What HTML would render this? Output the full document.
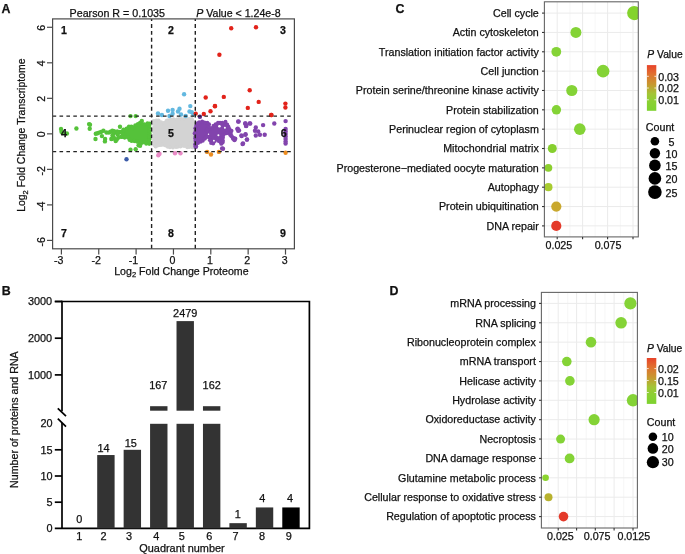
<!DOCTYPE html>
<html><head><meta charset="utf-8"><style>
html,body{margin:0;padding:0;background:#fff;}
svg{display:block;will-change:transform;}
text{font-family:"Liberation Sans",sans-serif;fill:#111;stroke:#111;stroke-width:0.25px;}
</style></head><body>
<svg width="685" height="554" viewBox="0 0 685 554">
<rect width="685" height="554" fill="#fff"/>
<text x="1.40" y="12.60" text-anchor="start" font-size="12.4" font-weight="bold" >A</text>
<text x="69.60" y="16.70" text-anchor="start" font-size="10.7" >Pearson R = 0.1035</text>
<text x="196.30" y="16.70" text-anchor="start" font-size="10.6" ><tspan font-style="italic">P</tspan> Value &lt; 1.24e-8</text>
<g>
<polygon points="122.5,131.4 122.5,136.7 124.2,137.4 127.7,135.5 129.1,139.4 131.1,140.4 134.0,141.6 136.2,140.8 140.2,143.4 142.8,142.3 148.1,143.8 149.2,144.1 149.2,122.5 147.6,123.2 144.0,124.2 142.2,123.1 140.8,122.6 138.1,123.8 135.8,125.0 133.9,129.5 131.1,126.9 128.8,126.3 127.5,127.2 124.6,130.7 122.5,131.4" fill="#55c23a"/>
<circle cx="122.24" cy="131.41" r="1.99" fill="#55c23a"/>
<circle cx="122.60" cy="134.15" r="1.89" fill="#55c23a"/>
<circle cx="122.01" cy="137.02" r="1.96" fill="#55c23a"/>
<circle cx="124.60" cy="137.54" r="2.03" fill="#55c23a"/>
<circle cx="127.52" cy="135.73" r="2.08" fill="#55c23a"/>
<circle cx="128.03" cy="137.59" r="2.16" fill="#55c23a"/>
<circle cx="129.60" cy="139.92" r="2.09" fill="#55c23a"/>
<circle cx="131.56" cy="141.03" r="2.07" fill="#55c23a"/>
<circle cx="134.27" cy="140.97" r="2.16" fill="#55c23a"/>
<circle cx="136.87" cy="141.49" r="2.16" fill="#55c23a"/>
<circle cx="139.35" cy="143.12" r="2.00" fill="#55c23a"/>
<circle cx="141.78" cy="142.81" r="2.18" fill="#55c23a"/>
<circle cx="144.35" cy="142.24" r="1.91" fill="#55c23a"/>
<circle cx="146.24" cy="143.86" r="2.01" fill="#55c23a"/>
<circle cx="149.22" cy="143.84" r="2.04" fill="#55c23a"/>
<circle cx="149.09" cy="141.36" r="2.06" fill="#55c23a"/>
<circle cx="149.28" cy="139.26" r="2.10" fill="#55c23a"/>
<circle cx="149.63" cy="136.55" r="2.20" fill="#55c23a"/>
<circle cx="149.37" cy="133.20" r="2.15" fill="#55c23a"/>
<circle cx="149.66" cy="131.29" r="2.06" fill="#55c23a"/>
<circle cx="149.41" cy="127.94" r="2.14" fill="#55c23a"/>
<circle cx="149.27" cy="125.36" r="1.89" fill="#55c23a"/>
<circle cx="149.55" cy="123.41" r="1.90" fill="#55c23a"/>
<circle cx="147.47" cy="123.23" r="1.92" fill="#55c23a"/>
<circle cx="144.41" cy="124.31" r="2.16" fill="#55c23a"/>
<circle cx="141.82" cy="123.31" r="1.88" fill="#55c23a"/>
<circle cx="140.08" cy="122.84" r="2.16" fill="#55c23a"/>
<circle cx="137.95" cy="124.16" r="2.20" fill="#55c23a"/>
<circle cx="135.32" cy="125.31" r="2.07" fill="#55c23a"/>
<circle cx="133.98" cy="127.87" r="2.00" fill="#55c23a"/>
<circle cx="133.10" cy="128.35" r="1.88" fill="#55c23a"/>
<circle cx="131.40" cy="126.74" r="2.19" fill="#55c23a"/>
<circle cx="128.90" cy="126.40" r="2.02" fill="#55c23a"/>
<circle cx="126.60" cy="128.45" r="2.07" fill="#55c23a"/>
<circle cx="124.96" cy="130.48" r="2.18" fill="#55c23a"/>
<circle cx="61.00" cy="129.00" r="2.20" fill="#55c23a"/>
<circle cx="61.50" cy="131.70" r="2.20" fill="#55c23a"/>
<circle cx="62.50" cy="133.00" r="2.20" fill="#55c23a"/>
<circle cx="66.90" cy="133.50" r="2.20" fill="#55c23a"/>
<circle cx="76.40" cy="128.50" r="2.20" fill="#55c23a"/>
<circle cx="89.10" cy="124.10" r="2.20" fill="#55c23a"/>
<circle cx="90.00" cy="124.70" r="2.20" fill="#55c23a"/>
<circle cx="89.70" cy="128.80" r="2.20" fill="#55c23a"/>
<circle cx="95.80" cy="133.80" r="2.20" fill="#55c23a"/>
<circle cx="99.00" cy="132.60" r="2.20" fill="#55c23a"/>
<circle cx="103.40" cy="130.80" r="2.20" fill="#55c23a"/>
<circle cx="101.90" cy="136.10" r="2.20" fill="#55c23a"/>
<circle cx="95.50" cy="139.00" r="2.20" fill="#55c23a"/>
<circle cx="105.10" cy="139.00" r="2.20" fill="#55c23a"/>
<circle cx="104.90" cy="141.40" r="2.20" fill="#55c23a"/>
<circle cx="108.90" cy="132.60" r="2.20" fill="#55c23a"/>
<circle cx="112.40" cy="130.80" r="2.20" fill="#55c23a"/>
<circle cx="113.60" cy="133.80" r="2.20" fill="#55c23a"/>
<circle cx="111.30" cy="139.00" r="2.20" fill="#55c23a"/>
<circle cx="115.70" cy="141.10" r="2.20" fill="#55c23a"/>
<circle cx="120.00" cy="126.80" r="2.20" fill="#55c23a"/>
<circle cx="117.70" cy="134.40" r="2.20" fill="#55c23a"/>
<circle cx="120.00" cy="132.00" r="2.20" fill="#55c23a"/>
<circle cx="123.50" cy="129.70" r="2.20" fill="#55c23a"/>
<circle cx="121.20" cy="136.70" r="2.20" fill="#55c23a"/>
<circle cx="124.70" cy="137.30" r="2.20" fill="#55c23a"/>
<circle cx="97.50" cy="133.20" r="2.20" fill="#55c23a"/>
<circle cx="101.00" cy="132.00" r="2.20" fill="#55c23a"/>
<circle cx="106.50" cy="132.50" r="2.20" fill="#55c23a"/>
<circle cx="110.50" cy="131.80" r="2.20" fill="#55c23a"/>
<circle cx="115.00" cy="132.20" r="2.20" fill="#55c23a"/>
<circle cx="117.00" cy="131.80" r="2.20" fill="#55c23a"/>
<circle cx="114.10" cy="131.20" r="2.20" fill="#55c23a"/>
<circle cx="117.50" cy="131.80" r="2.20" fill="#55c23a"/>
<circle cx="112.50" cy="135.50" r="2.20" fill="#55c23a"/>
<circle cx="114.00" cy="138.00" r="2.20" fill="#55c23a"/>
<circle cx="116.80" cy="139.50" r="2.20" fill="#55c23a"/>
<circle cx="118.50" cy="137.50" r="2.20" fill="#55c23a"/>
<circle cx="113.40" cy="138.00" r="2.20" fill="#55c23a"/>
<circle cx="112.30" cy="138.70" r="2.20" fill="#55c23a"/>
<circle cx="130.50" cy="149.70" r="2.20" fill="#55c23a"/>
<circle cx="135.70" cy="149.30" r="2.20" fill="#55c23a"/>
<circle cx="130.50" cy="116.10" r="2.20" fill="#55c23a"/>
<circle cx="135.70" cy="116.10" r="2.20" fill="#55c23a"/>
<circle cx="141.80" cy="120.90" r="2.20" fill="#55c23a"/>
<circle cx="140.10" cy="145.80" r="2.20" fill="#55c23a"/>
<circle cx="138.60" cy="145.20" r="2.20" fill="#55c23a"/>
<polygon points="154.0,121.5 154.0,143.6 154.3,145.9 155.8,146.6 157.7,145.4 162.5,144.4 166.8,146.2 172.0,147.7 174.8,147.4 180.9,146.2 184.1,145.1 186.6,147.6 190.6,146.9 192.8,146.4 192.8,119.4 192.2,119.2 188.4,119.6 183.7,118.4 178.3,119.6 171.9,119.2 169.1,119.8 165.6,121.3 162.7,124.2 159.7,121.1 157.9,120.0 155.7,120.2 154.0,121.5" fill="#d3d3d3"/>
<circle cx="153.74" cy="121.11" r="2.00" fill="#d3d3d3"/>
<circle cx="153.65" cy="123.67" r="2.00" fill="#d3d3d3"/>
<circle cx="154.42" cy="127.01" r="2.12" fill="#d3d3d3"/>
<circle cx="153.72" cy="129.35" r="1.96" fill="#d3d3d3"/>
<circle cx="153.67" cy="131.52" r="1.94" fill="#d3d3d3"/>
<circle cx="154.43" cy="134.84" r="2.14" fill="#d3d3d3"/>
<circle cx="154.30" cy="136.81" r="1.97" fill="#d3d3d3"/>
<circle cx="154.13" cy="139.95" r="2.15" fill="#d3d3d3"/>
<circle cx="154.38" cy="141.91" r="2.07" fill="#d3d3d3"/>
<circle cx="154.34" cy="144.92" r="1.93" fill="#d3d3d3"/>
<circle cx="155.72" cy="146.21" r="2.18" fill="#d3d3d3"/>
<circle cx="158.32" cy="145.39" r="1.97" fill="#d3d3d3"/>
<circle cx="160.91" cy="144.90" r="2.16" fill="#d3d3d3"/>
<circle cx="163.37" cy="144.67" r="2.01" fill="#d3d3d3"/>
<circle cx="165.54" cy="145.56" r="1.92" fill="#d3d3d3"/>
<circle cx="167.70" cy="146.81" r="1.88" fill="#d3d3d3"/>
<circle cx="169.94" cy="147.35" r="1.96" fill="#d3d3d3"/>
<circle cx="172.96" cy="147.56" r="1.98" fill="#d3d3d3"/>
<circle cx="176.00" cy="146.96" r="2.01" fill="#d3d3d3"/>
<circle cx="177.75" cy="146.87" r="1.96" fill="#d3d3d3"/>
<circle cx="180.45" cy="146.46" r="1.98" fill="#d3d3d3"/>
<circle cx="183.13" cy="145.83" r="1.90" fill="#d3d3d3"/>
<circle cx="184.75" cy="145.85" r="2.12" fill="#d3d3d3"/>
<circle cx="187.29" cy="147.24" r="1.98" fill="#d3d3d3"/>
<circle cx="189.42" cy="147.03" r="1.88" fill="#d3d3d3"/>
<circle cx="192.48" cy="146.94" r="2.19" fill="#d3d3d3"/>
<circle cx="193.03" cy="144.81" r="1.88" fill="#d3d3d3"/>
<circle cx="192.59" cy="142.22" r="2.13" fill="#d3d3d3"/>
<circle cx="192.71" cy="139.59" r="2.07" fill="#d3d3d3"/>
<circle cx="193.12" cy="136.34" r="1.93" fill="#d3d3d3"/>
<circle cx="192.74" cy="133.58" r="2.00" fill="#d3d3d3"/>
<circle cx="193.26" cy="131.17" r="1.87" fill="#d3d3d3"/>
<circle cx="192.34" cy="128.41" r="2.13" fill="#d3d3d3"/>
<circle cx="192.66" cy="125.93" r="1.90" fill="#d3d3d3"/>
<circle cx="193.28" cy="123.46" r="1.94" fill="#d3d3d3"/>
<circle cx="192.36" cy="120.49" r="1.93" fill="#d3d3d3"/>
<circle cx="191.91" cy="118.93" r="1.88" fill="#d3d3d3"/>
<circle cx="189.14" cy="119.29" r="2.20" fill="#d3d3d3"/>
<circle cx="186.22" cy="119.20" r="2.13" fill="#d3d3d3"/>
<circle cx="183.99" cy="119.03" r="2.03" fill="#d3d3d3"/>
<circle cx="181.28" cy="118.82" r="1.88" fill="#d3d3d3"/>
<circle cx="178.92" cy="119.21" r="2.16" fill="#d3d3d3"/>
<circle cx="176.75" cy="119.49" r="1.88" fill="#d3d3d3"/>
<circle cx="173.57" cy="119.07" r="1.94" fill="#d3d3d3"/>
<circle cx="170.97" cy="119.73" r="1.92" fill="#d3d3d3"/>
<circle cx="168.27" cy="120.41" r="2.06" fill="#d3d3d3"/>
<circle cx="166.80" cy="120.87" r="2.17" fill="#d3d3d3"/>
<circle cx="164.46" cy="122.85" r="2.12" fill="#d3d3d3"/>
<circle cx="162.46" cy="123.52" r="1.94" fill="#d3d3d3"/>
<circle cx="161.00" cy="122.48" r="2.18" fill="#d3d3d3"/>
<circle cx="158.46" cy="120.60" r="2.13" fill="#d3d3d3"/>
<circle cx="156.32" cy="120.49" r="2.04" fill="#d3d3d3"/>
<polygon points="195.3,128.1 195.3,141.4 195.5,145.7 195.7,145.8 197.9,143.5 201.3,141.5 204.7,138.2 208.6,135.6 210.6,140.8 211.8,143.1 212.9,143.9 213.3,143.3 216.6,138.9 219.0,141.6 221.6,143.3 221.9,144.9 221.9,144.0 222.6,139.7 223.4,134.9 227.1,132.6 231.6,136.2 233.2,138.7 234.3,138.6 234.3,138.0 230.6,134.4 231.4,131.3 229.7,127.9 227.7,125.3 225.9,122.7 224.6,121.9 221.7,122.5 218.3,122.5 216.2,123.3 213.7,126.2 206.5,130.7 209.4,124.3 208.7,122.9 205.5,122.1 199.2,122.1 197.4,122.7 196.2,126.3 195.3,128.1" fill="#8244ad"/>
<circle cx="195.42" cy="128.32" r="2.13" fill="#8244ad"/>
<circle cx="195.74" cy="130.95" r="2.17" fill="#8244ad"/>
<circle cx="194.83" cy="133.32" r="2.18" fill="#8244ad"/>
<circle cx="195.45" cy="136.39" r="1.91" fill="#8244ad"/>
<circle cx="195.27" cy="138.37" r="2.05" fill="#8244ad"/>
<circle cx="195.37" cy="140.77" r="1.94" fill="#8244ad"/>
<circle cx="195.22" cy="144.31" r="2.12" fill="#8244ad"/>
<circle cx="195.80" cy="145.60" r="1.92" fill="#8244ad"/>
<circle cx="198.14" cy="143.09" r="1.87" fill="#8244ad"/>
<circle cx="200.66" cy="141.83" r="1.94" fill="#8244ad"/>
<circle cx="202.82" cy="140.87" r="1.97" fill="#8244ad"/>
<circle cx="204.67" cy="138.67" r="2.09" fill="#8244ad"/>
<circle cx="206.02" cy="137.51" r="2.10" fill="#8244ad"/>
<circle cx="208.97" cy="136.00" r="1.97" fill="#8244ad"/>
<circle cx="209.35" cy="137.60" r="1.92" fill="#8244ad"/>
<circle cx="210.00" cy="140.20" r="2.07" fill="#8244ad"/>
<circle cx="211.08" cy="142.95" r="1.98" fill="#8244ad"/>
<circle cx="213.16" cy="143.52" r="2.03" fill="#8244ad"/>
<circle cx="214.75" cy="141.08" r="2.10" fill="#8244ad"/>
<circle cx="216.07" cy="139.46" r="1.88" fill="#8244ad"/>
<circle cx="218.55" cy="141.11" r="1.88" fill="#8244ad"/>
<circle cx="220.61" cy="142.29" r="2.06" fill="#8244ad"/>
<circle cx="221.26" cy="143.93" r="1.93" fill="#8244ad"/>
<circle cx="222.55" cy="142.59" r="2.12" fill="#8244ad"/>
<circle cx="222.96" cy="140.74" r="1.98" fill="#8244ad"/>
<circle cx="222.83" cy="137.72" r="2.13" fill="#8244ad"/>
<circle cx="223.02" cy="135.34" r="2.13" fill="#8244ad"/>
<circle cx="225.89" cy="133.16" r="2.18" fill="#8244ad"/>
<circle cx="227.31" cy="132.97" r="2.07" fill="#8244ad"/>
<circle cx="230.21" cy="134.61" r="2.17" fill="#8244ad"/>
<circle cx="231.82" cy="136.29" r="1.97" fill="#8244ad"/>
<circle cx="232.88" cy="138.27" r="1.92" fill="#8244ad"/>
<circle cx="233.82" cy="137.82" r="1.92" fill="#8244ad"/>
<circle cx="231.29" cy="135.97" r="2.05" fill="#8244ad"/>
<circle cx="230.79" cy="133.09" r="2.07" fill="#8244ad"/>
<circle cx="231.52" cy="130.79" r="2.01" fill="#8244ad"/>
<circle cx="229.59" cy="128.88" r="1.88" fill="#8244ad"/>
<circle cx="228.53" cy="126.65" r="1.91" fill="#8244ad"/>
<circle cx="227.19" cy="124.64" r="2.08" fill="#8244ad"/>
<circle cx="225.50" cy="121.88" r="2.01" fill="#8244ad"/>
<circle cx="222.37" cy="122.63" r="1.97" fill="#8244ad"/>
<circle cx="220.06" cy="123.00" r="2.15" fill="#8244ad"/>
<circle cx="218.00" cy="122.74" r="2.03" fill="#8244ad"/>
<circle cx="215.64" cy="124.19" r="1.97" fill="#8244ad"/>
<circle cx="213.58" cy="125.85" r="1.99" fill="#8244ad"/>
<circle cx="211.94" cy="128.07" r="2.08" fill="#8244ad"/>
<circle cx="209.21" cy="128.84" r="1.90" fill="#8244ad"/>
<circle cx="206.75" cy="130.68" r="2.16" fill="#8244ad"/>
<circle cx="207.29" cy="129.02" r="2.13" fill="#8244ad"/>
<circle cx="208.71" cy="126.50" r="2.12" fill="#8244ad"/>
<circle cx="209.09" cy="124.14" r="1.96" fill="#8244ad"/>
<circle cx="207.28" cy="122.80" r="2.10" fill="#8244ad"/>
<circle cx="204.50" cy="122.55" r="2.08" fill="#8244ad"/>
<circle cx="202.15" cy="121.61" r="2.05" fill="#8244ad"/>
<circle cx="199.19" cy="122.27" r="2.02" fill="#8244ad"/>
<circle cx="197.54" cy="123.33" r="2.13" fill="#8244ad"/>
<circle cx="196.24" cy="125.83" r="2.11" fill="#8244ad"/>
<circle cx="219.40" cy="126.30" r="1.30" fill="#ffffff"/>
<circle cx="224.90" cy="127.70" r="1.00" fill="#ffffff"/>
<circle cx="218.40" cy="135.30" r="1.00" fill="#ffffff"/>
<circle cx="213.90" cy="140.70" r="0.90" fill="#ffffff"/>
<circle cx="208.50" cy="134.20" r="0.70" fill="#ffffff"/>
<circle cx="238.60" cy="121.60" r="2.20" fill="#8244ad"/>
<circle cx="245.20" cy="123.40" r="2.20" fill="#8244ad"/>
<circle cx="246.10" cy="126.00" r="2.20" fill="#8244ad"/>
<circle cx="237.70" cy="128.60" r="2.20" fill="#8244ad"/>
<circle cx="239.00" cy="130.40" r="2.20" fill="#8244ad"/>
<circle cx="241.70" cy="136.10" r="2.20" fill="#8244ad"/>
<circle cx="245.60" cy="134.30" r="2.20" fill="#8244ad"/>
<circle cx="246.90" cy="139.60" r="2.20" fill="#8244ad"/>
<circle cx="242.60" cy="144.00" r="2.20" fill="#8244ad"/>
<circle cx="249.60" cy="123.40" r="2.20" fill="#8244ad"/>
<circle cx="238.20" cy="121.50" r="2.20" fill="#8244ad"/>
<circle cx="245.40" cy="123.50" r="2.20" fill="#8244ad"/>
<circle cx="250.20" cy="123.50" r="2.20" fill="#8244ad"/>
<circle cx="246.20" cy="125.90" r="2.20" fill="#8244ad"/>
<circle cx="263.10" cy="125.10" r="2.20" fill="#8244ad"/>
<circle cx="274.30" cy="123.50" r="2.20" fill="#8244ad"/>
<circle cx="285.60" cy="121.10" r="2.20" fill="#8244ad"/>
<circle cx="237.40" cy="129.10" r="2.20" fill="#8244ad"/>
<circle cx="238.20" cy="130.70" r="2.20" fill="#8244ad"/>
<circle cx="255.80" cy="127.50" r="2.20" fill="#8244ad"/>
<circle cx="255.00" cy="130.70" r="2.20" fill="#8244ad"/>
<circle cx="258.20" cy="131.50" r="2.20" fill="#8244ad"/>
<circle cx="255.80" cy="135.50" r="2.20" fill="#8244ad"/>
<circle cx="259.90" cy="134.70" r="2.20" fill="#8244ad"/>
<circle cx="264.70" cy="134.70" r="2.20" fill="#8244ad"/>
<circle cx="241.40" cy="135.50" r="2.20" fill="#8244ad"/>
<circle cx="245.40" cy="134.70" r="2.20" fill="#8244ad"/>
<circle cx="247.00" cy="139.50" r="2.20" fill="#8244ad"/>
<circle cx="243.00" cy="143.50" r="2.20" fill="#8244ad"/>
<circle cx="233.40" cy="138.70" r="2.20" fill="#8244ad"/>
<circle cx="222.10" cy="148.40" r="2.20" fill="#8244ad"/>
<circle cx="195.60" cy="146.80" r="2.20" fill="#8244ad"/>
<circle cx="285.60" cy="129.00" r="2.20" fill="#8244ad"/>
<circle cx="285.60" cy="131.50" r="2.20" fill="#8244ad"/>
<circle cx="285.60" cy="134.00" r="2.20" fill="#8244ad"/>
<circle cx="285.60" cy="136.50" r="2.20" fill="#8244ad"/>
<circle cx="285.60" cy="139.00" r="2.20" fill="#8244ad"/>
<circle cx="285.60" cy="141.50" r="2.20" fill="#8244ad"/>
<circle cx="285.60" cy="143.50" r="2.20" fill="#8244ad"/>
<circle cx="235.20" cy="138.80" r="2.20" fill="#8244ad"/>
<circle cx="234.50" cy="140.00" r="2.20" fill="#8244ad"/>
<circle cx="223.00" cy="148.80" r="2.20" fill="#8244ad"/>
<circle cx="196.00" cy="146.50" r="2.20" fill="#8244ad"/>
<circle cx="199.90" cy="116.70" r="2.20" fill="#5c2e86"/>
<circle cx="184.10" cy="94.30" r="2.20" fill="#63b8e0"/>
<circle cx="190.30" cy="106.10" r="2.20" fill="#63b8e0"/>
<circle cx="189.50" cy="111.50" r="2.20" fill="#63b8e0"/>
<circle cx="191.80" cy="112.20" r="2.20" fill="#63b8e0"/>
<circle cx="179.50" cy="108.80" r="2.20" fill="#63b8e0"/>
<circle cx="178.00" cy="111.50" r="2.20" fill="#63b8e0"/>
<circle cx="172.60" cy="109.90" r="2.20" fill="#63b8e0"/>
<circle cx="168.00" cy="110.70" r="2.20" fill="#63b8e0"/>
<circle cx="172.60" cy="113.80" r="2.20" fill="#63b8e0"/>
<circle cx="169.50" cy="116.00" r="2.20" fill="#63b8e0"/>
<circle cx="158.00" cy="113.50" r="2.20" fill="#63b8e0"/>
<circle cx="161.90" cy="115.00" r="2.20" fill="#63b8e0"/>
<circle cx="185.70" cy="116.00" r="2.20" fill="#63b8e0"/>
<circle cx="181.00" cy="114.50" r="2.20" fill="#63b8e0"/>
<circle cx="193.50" cy="114.50" r="2.20" fill="#63b8e0"/>
<circle cx="231.20" cy="28.30" r="2.20" fill="#e2231a"/>
<circle cx="256.00" cy="27.30" r="2.20" fill="#e2231a"/>
<circle cx="219.40" cy="54.80" r="2.20" fill="#e2231a"/>
<circle cx="249.70" cy="90.30" r="2.20" fill="#e2231a"/>
<circle cx="205.70" cy="97.50" r="2.20" fill="#e2231a"/>
<circle cx="223.80" cy="96.90" r="2.20" fill="#e2231a"/>
<circle cx="258.70" cy="101.90" r="2.20" fill="#e2231a"/>
<circle cx="215.00" cy="106.00" r="2.20" fill="#e2231a"/>
<circle cx="247.80" cy="107.90" r="2.20" fill="#e2231a"/>
<circle cx="285.40" cy="103.60" r="2.20" fill="#e2231a"/>
<circle cx="285.40" cy="107.50" r="2.20" fill="#e2231a"/>
<circle cx="210.50" cy="111.20" r="2.20" fill="#e2231a"/>
<circle cx="203.80" cy="114.00" r="2.20" fill="#e2231a"/>
<circle cx="195.70" cy="113.60" r="2.20" fill="#e2231a"/>
<circle cx="271.50" cy="115.00" r="2.20" fill="#e2231a"/>
<circle cx="271.10" cy="115.00" r="2.20" fill="#e2231a"/>
<circle cx="214.90" cy="106.30" r="2.20" fill="#e2231a"/>
<circle cx="158.30" cy="155.30" r="2.20" fill="#e98ac6"/>
<circle cx="159.50" cy="153.70" r="2.20" fill="#e98ac6"/>
<circle cx="175.00" cy="153.30" r="2.20" fill="#e98ac6"/>
<circle cx="180.50" cy="153.30" r="2.20" fill="#e98ac6"/>
<circle cx="207.10" cy="151.90" r="2.20" fill="#ec8c1f"/>
<circle cx="211.00" cy="154.50" r="2.20" fill="#ec8c1f"/>
<circle cx="218.90" cy="151.90" r="2.20" fill="#ec8c1f"/>
<circle cx="285.60" cy="152.70" r="2.20" fill="#ec8c1f"/>
<circle cx="126.50" cy="159.30" r="2.20" fill="#3b5ba8"/>
</g>
<line x1="151.60" y1="18.90" x2="151.60" y2="248.80" stroke="#222" stroke-width="1.4" stroke-dasharray="3.9,3.0" stroke-dashoffset="1.8"/>
<line x1="195.30" y1="18.90" x2="195.30" y2="248.80" stroke="#222" stroke-width="1.4" stroke-dasharray="3.9,3.0" stroke-dashoffset="1.8"/>
<line x1="52.60" y1="116.09" x2="294.40" y2="116.09" stroke="#222" stroke-width="1.3" stroke-dasharray="3.6,3.3"/>
<line x1="52.60" y1="151.61" x2="294.40" y2="151.61" stroke="#222" stroke-width="1.3" stroke-dasharray="3.6,3.3"/>
<rect x="52.6" y="18.9" width="241.80" height="229.90" fill="none" stroke="#4a4a4a" stroke-width="1.2"/>
<line x1="47.00" y1="240.41" x2="52.60" y2="240.41" stroke="#4a4a4a" stroke-width="1.2" />
<text transform="translate(44.8,241.81) rotate(-90)" text-anchor="middle" font-size="10.6">-6</text>
<line x1="47.00" y1="204.89" x2="52.60" y2="204.89" stroke="#4a4a4a" stroke-width="1.2" />
<text transform="translate(44.8,206.29) rotate(-90)" text-anchor="middle" font-size="10.6">-4</text>
<line x1="47.00" y1="169.37" x2="52.60" y2="169.37" stroke="#4a4a4a" stroke-width="1.2" />
<text transform="translate(44.8,170.77) rotate(-90)" text-anchor="middle" font-size="10.6">-2</text>
<line x1="47.00" y1="133.85" x2="52.60" y2="133.85" stroke="#4a4a4a" stroke-width="1.2" />
<text transform="translate(44.8,134.35) rotate(-90)" text-anchor="middle" font-size="10.6">0</text>
<line x1="47.00" y1="98.33" x2="52.60" y2="98.33" stroke="#4a4a4a" stroke-width="1.2" />
<text transform="translate(44.8,98.83) rotate(-90)" text-anchor="middle" font-size="10.6">2</text>
<line x1="47.00" y1="62.81" x2="52.60" y2="62.81" stroke="#4a4a4a" stroke-width="1.2" />
<text transform="translate(44.8,63.31) rotate(-90)" text-anchor="middle" font-size="10.6">4</text>
<line x1="47.00" y1="27.29" x2="52.60" y2="27.29" stroke="#4a4a4a" stroke-width="1.2" />
<text transform="translate(44.8,27.79) rotate(-90)" text-anchor="middle" font-size="10.6">6</text>
<line x1="61.40" y1="248.80" x2="61.40" y2="254.60" stroke="#4a4a4a" stroke-width="1.2" />
<text x="58.80" y="264.20" text-anchor="middle" font-size="10.6" >-3</text>
<line x1="98.75" y1="248.80" x2="98.75" y2="254.60" stroke="#4a4a4a" stroke-width="1.2" />
<text x="96.15" y="264.20" text-anchor="middle" font-size="10.6" >-2</text>
<line x1="136.10" y1="248.80" x2="136.10" y2="254.60" stroke="#4a4a4a" stroke-width="1.2" />
<text x="133.50" y="264.20" text-anchor="middle" font-size="10.6" >-1</text>
<line x1="173.45" y1="248.80" x2="173.45" y2="254.60" stroke="#4a4a4a" stroke-width="1.2" />
<text x="172.55" y="264.20" text-anchor="middle" font-size="10.6" >0</text>
<line x1="210.80" y1="248.80" x2="210.80" y2="254.60" stroke="#4a4a4a" stroke-width="1.2" />
<text x="209.90" y="264.20" text-anchor="middle" font-size="10.6" >1</text>
<line x1="248.15" y1="248.80" x2="248.15" y2="254.60" stroke="#4a4a4a" stroke-width="1.2" />
<text x="247.25" y="264.20" text-anchor="middle" font-size="10.6" >2</text>
<line x1="285.50" y1="248.80" x2="285.50" y2="254.60" stroke="#4a4a4a" stroke-width="1.2" />
<text x="284.60" y="264.20" text-anchor="middle" font-size="10.6" >3</text>
<text x="61.00" y="33.50" text-anchor="start" font-size="10.6" font-weight="bold" >1</text>
<text x="168.00" y="34.00" text-anchor="start" font-size="10.6" font-weight="bold" >2</text>
<text x="280.00" y="34.00" text-anchor="start" font-size="10.6" font-weight="bold" >3</text>
<text x="61.00" y="137.00" text-anchor="start" font-size="10.6" font-weight="bold" >4</text>
<text x="168.00" y="137.00" text-anchor="start" font-size="10.6" font-weight="bold" >5</text>
<text x="280.70" y="137.00" text-anchor="start" font-size="10.6" font-weight="bold" >6</text>
<text x="61.00" y="236.60" text-anchor="start" font-size="10.6" font-weight="bold" >7</text>
<text x="168.00" y="236.60" text-anchor="start" font-size="10.6" font-weight="bold" >8</text>
<text x="280.00" y="236.60" text-anchor="start" font-size="10.6" font-weight="bold" >9</text>
<text x="181.40" y="274.60" text-anchor="middle" font-size="10.6" >Log<tspan font-size="7.5" dy="2.5">2</tspan><tspan dy="-2.5"> Fold Change Proteome</tspan></text>
<text transform="translate(25.1,135.2) rotate(-90)" text-anchor="middle" font-size="10.45">Log<tspan font-size="7.5" dy="2.5">2</tspan><tspan dy="-2.5"> Fold Change Transcriptome</tspan></text>
<text x="1.70" y="295.00" text-anchor="start" font-size="12.4" font-weight="bold" >B</text>
<path d="M54.8,301.50 H309.4 V528.4 H54.8" fill="none" stroke="#000" stroke-width="1.7"/>
<line x1="62.00" y1="300.65" x2="62.00" y2="411.20" stroke="#000" stroke-width="1.7" />
<line x1="62.00" y1="423.00" x2="62.00" y2="528.40" stroke="#000" stroke-width="1.7" />
<line x1="57.80" y1="408.40" x2="66.00" y2="416.20" stroke="#000" stroke-width="1.7" />
<line x1="57.80" y1="418.60" x2="66.00" y2="426.60" stroke="#000" stroke-width="1.7" />
<line x1="54.80" y1="301.50" x2="62.00" y2="301.50" stroke="#000" stroke-width="1.7" />
<text x="52.20" y="305.30" text-anchor="end" font-size="10.9" >3000</text>
<line x1="54.80" y1="338.20" x2="62.00" y2="338.20" stroke="#000" stroke-width="1.7" />
<text x="52.20" y="342.00" text-anchor="end" font-size="10.9" >2000</text>
<line x1="54.80" y1="374.90" x2="62.00" y2="374.90" stroke="#000" stroke-width="1.7" />
<text x="52.20" y="378.70" text-anchor="end" font-size="10.9" >1000</text>
<line x1="54.80" y1="449.80" x2="62.00" y2="449.80" stroke="#000" stroke-width="1.7" />
<line x1="54.80" y1="476.00" x2="62.00" y2="476.00" stroke="#000" stroke-width="1.7" />
<line x1="54.80" y1="502.20" x2="62.00" y2="502.20" stroke="#000" stroke-width="1.7" />
<text x="52.60" y="427.40" text-anchor="end" font-size="10.9" >20</text>
<text x="52.60" y="453.60" text-anchor="end" font-size="10.9" >15</text>
<text x="52.60" y="479.80" text-anchor="end" font-size="10.9" >10</text>
<text x="52.60" y="506.00" text-anchor="end" font-size="10.9" >5</text>
<text x="52.60" y="532.20" text-anchor="end" font-size="10.9" >0</text>
<rect x="97.20" y="455.04" width="17.40" height="73.36" fill="#333333"/>
<rect x="123.64" y="449.80" width="17.40" height="78.60" fill="#333333"/>
<rect x="229.40" y="523.16" width="17.40" height="5.24" fill="#333333"/>
<rect x="255.84" y="507.44" width="17.40" height="20.96" fill="#333333"/>
<rect x="282.28" y="507.44" width="17.40" height="20.96" fill="#000"/>
<rect x="150.08" y="423.80" width="17.40" height="104.60" fill="#333333"/>
<rect x="176.52" y="423.80" width="17.40" height="104.60" fill="#333333"/>
<rect x="202.96" y="423.80" width="17.40" height="104.60" fill="#333333"/>
<rect x="150.08" y="406.20" width="17.40" height="4.50" fill="#333333"/>
<rect x="202.96" y="406.20" width="17.40" height="4.50" fill="#333333"/>
<rect x="176.52" y="321.10" width="17.40" height="89.60" fill="#333333"/>
<text x="79.40" y="523.30" text-anchor="middle" font-size="10.9" >0</text>
<text x="103.60" y="451.70" text-anchor="middle" font-size="10.9" >14</text>
<text x="130.80" y="447.30" text-anchor="middle" font-size="10.9" >15</text>
<text x="158.30" y="388.50" text-anchor="middle" font-size="10.9" >167</text>
<text x="185.20" y="317.40" text-anchor="middle" font-size="10.9" >2479</text>
<text x="211.70" y="388.50" text-anchor="middle" font-size="10.9" >162</text>
<text x="237.90" y="517.60" text-anchor="middle" font-size="10.9" >1</text>
<text x="262.40" y="501.60" text-anchor="middle" font-size="10.9" >4</text>
<text x="290.00" y="501.60" text-anchor="middle" font-size="10.9" >4</text>
<text x="79.40" y="539.80" text-anchor="middle" font-size="10.9" >1</text>
<text x="103.60" y="539.80" text-anchor="middle" font-size="10.9" >2</text>
<text x="129.10" y="539.80" text-anchor="middle" font-size="10.9" >3</text>
<text x="156.30" y="539.80" text-anchor="middle" font-size="10.9" >4</text>
<text x="181.80" y="539.80" text-anchor="middle" font-size="10.9" >5</text>
<text x="209.40" y="539.80" text-anchor="middle" font-size="10.9" >6</text>
<text x="235.50" y="539.80" text-anchor="middle" font-size="10.9" >7</text>
<text x="262.10" y="539.80" text-anchor="middle" font-size="10.9" >8</text>
<text x="288.90" y="539.80" text-anchor="middle" font-size="10.9" >9</text>
<text x="182.00" y="551.80" text-anchor="middle" font-size="10.9" >Quadrant number</text>
<text transform="translate(17.9,419.6) rotate(-90)" text-anchor="middle" font-size="10.65">Number of proteins and RNA</text>
<text x="395.60" y="12.80" text-anchor="start" font-size="12.4" font-weight="bold" >C</text>
<clipPath id="cpC"><rect x="544.4" y="1.8" width="93.89999999999998" height="235.1"/></clipPath>
<g clip-path="url(#cpC)">
<line x1="570.00" y1="1.80" x2="570.00" y2="236.90" stroke="#f0f0f0" stroke-width="0.6" />
<line x1="595.10" y1="1.80" x2="595.10" y2="236.90" stroke="#f0f0f0" stroke-width="0.6" />
<line x1="620.30" y1="1.80" x2="620.30" y2="236.90" stroke="#f0f0f0" stroke-width="0.6" />
<line x1="557.20" y1="1.80" x2="557.20" y2="236.90" stroke="#ebebeb" stroke-width="1.0" />
<line x1="582.60" y1="1.80" x2="582.60" y2="236.90" stroke="#ebebeb" stroke-width="1.0" />
<line x1="607.60" y1="1.80" x2="607.60" y2="236.90" stroke="#ebebeb" stroke-width="1.0" />
<line x1="633.00" y1="1.80" x2="633.00" y2="236.90" stroke="#ebebeb" stroke-width="1.0" />
<line x1="544.40" y1="13.10" x2="638.30" y2="13.10" stroke="#ebebeb" stroke-width="1.0" />
<line x1="544.40" y1="32.45" x2="638.30" y2="32.45" stroke="#ebebeb" stroke-width="1.0" />
<line x1="544.40" y1="51.79" x2="638.30" y2="51.79" stroke="#ebebeb" stroke-width="1.0" />
<line x1="544.40" y1="71.13" x2="638.30" y2="71.13" stroke="#ebebeb" stroke-width="1.0" />
<line x1="544.40" y1="90.48" x2="638.30" y2="90.48" stroke="#ebebeb" stroke-width="1.0" />
<line x1="544.40" y1="109.82" x2="638.30" y2="109.82" stroke="#ebebeb" stroke-width="1.0" />
<line x1="544.40" y1="129.17" x2="638.30" y2="129.17" stroke="#ebebeb" stroke-width="1.0" />
<line x1="544.40" y1="148.51" x2="638.30" y2="148.51" stroke="#ebebeb" stroke-width="1.0" />
<line x1="544.40" y1="167.86" x2="638.30" y2="167.86" stroke="#ebebeb" stroke-width="1.0" />
<line x1="544.40" y1="187.20" x2="638.30" y2="187.20" stroke="#ebebeb" stroke-width="1.0" />
<line x1="544.40" y1="206.55" x2="638.30" y2="206.55" stroke="#ebebeb" stroke-width="1.0" />
<line x1="544.40" y1="225.89" x2="638.30" y2="225.89" stroke="#ebebeb" stroke-width="1.0" />
<circle cx="634.20" cy="13.10" r="7.10" fill="#84d32c"/>
<circle cx="575.90" cy="32.45" r="5.50" fill="#84d336"/>
<circle cx="556.30" cy="51.79" r="4.90" fill="#84d336"/>
<circle cx="603.10" cy="71.13" r="6.30" fill="#84d336"/>
<circle cx="571.80" cy="90.48" r="5.60" fill="#84d336"/>
<circle cx="556.40" cy="109.82" r="4.70" fill="#84d336"/>
<circle cx="579.80" cy="129.17" r="5.80" fill="#84d336"/>
<circle cx="552.30" cy="148.51" r="4.50" fill="#86cf2e"/>
<circle cx="548.40" cy="167.86" r="3.90" fill="#8ccf2e"/>
<circle cx="548.40" cy="187.20" r="4.10" fill="#a8cc30"/>
<circle cx="556.30" cy="206.55" r="5.10" fill="#c9a82e"/>
<circle cx="556.30" cy="225.89" r="5.10" fill="#e43a2a"/>
</g>
<rect x="544.4" y="1.8" width="93.90" height="235.10" fill="none" stroke="#666" stroke-width="1.1"/>
<line x1="542.00" y1="13.10" x2="544.40" y2="13.10" stroke="#333" stroke-width="1.1" />
<text x="538.80" y="16.90" text-anchor="end" font-size="10.7" >Cell cycle</text>
<line x1="542.00" y1="32.45" x2="544.40" y2="32.45" stroke="#333" stroke-width="1.1" />
<text x="538.80" y="36.24" text-anchor="end" font-size="10.7" >Actin cytoskeleton</text>
<line x1="542.00" y1="51.79" x2="544.40" y2="51.79" stroke="#333" stroke-width="1.1" />
<text x="538.80" y="55.59" text-anchor="end" font-size="10.7" >Translation initiation factor activity</text>
<line x1="542.00" y1="71.13" x2="544.40" y2="71.13" stroke="#333" stroke-width="1.1" />
<text x="538.80" y="74.93" text-anchor="end" font-size="10.7" >Cell junction</text>
<line x1="542.00" y1="90.48" x2="544.40" y2="90.48" stroke="#333" stroke-width="1.1" />
<text x="538.80" y="94.28" text-anchor="end" font-size="10.7" >Protein serine/threonine kinase activity</text>
<line x1="542.00" y1="109.82" x2="544.40" y2="109.82" stroke="#333" stroke-width="1.1" />
<text x="538.80" y="113.62" text-anchor="end" font-size="10.7" >Protein stabilization</text>
<line x1="542.00" y1="129.17" x2="544.40" y2="129.17" stroke="#333" stroke-width="1.1" />
<text x="538.80" y="132.97" text-anchor="end" font-size="10.7" >Perinuclear region of cytoplasm</text>
<line x1="542.00" y1="148.51" x2="544.40" y2="148.51" stroke="#333" stroke-width="1.1" />
<text x="538.80" y="152.31" text-anchor="end" font-size="10.7" >Mitochondrial matrix</text>
<line x1="542.00" y1="167.86" x2="544.40" y2="167.86" stroke="#333" stroke-width="1.1" />
<text x="538.80" y="171.66" text-anchor="end" font-size="10.7" >Progesterone&#8722;mediated oocyte maturation</text>
<line x1="542.00" y1="187.20" x2="544.40" y2="187.20" stroke="#333" stroke-width="1.1" />
<text x="538.80" y="191.00" text-anchor="end" font-size="10.7" >Autophagy</text>
<line x1="542.00" y1="206.55" x2="544.40" y2="206.55" stroke="#333" stroke-width="1.1" />
<text x="538.80" y="210.35" text-anchor="end" font-size="10.7" >Protein ubiquitination</text>
<line x1="542.00" y1="225.89" x2="544.40" y2="225.89" stroke="#333" stroke-width="1.1" />
<text x="538.80" y="229.69" text-anchor="end" font-size="10.7" >DNA repair</text>
<line x1="557.20" y1="236.90" x2="557.20" y2="239.30" stroke="#333" stroke-width="1.1" />
<line x1="582.60" y1="236.90" x2="582.60" y2="239.30" stroke="#333" stroke-width="1.1" />
<line x1="607.60" y1="236.90" x2="607.60" y2="239.30" stroke="#333" stroke-width="1.1" />
<line x1="633.00" y1="236.90" x2="633.00" y2="239.30" stroke="#333" stroke-width="1.1" />
<text x="558.90" y="249.20" text-anchor="middle" font-size="10.7" >0.025</text>
<text x="608.00" y="249.20" text-anchor="middle" font-size="10.7" >0.075</text>
<text x="647.30" y="58.40" text-anchor="start" font-size="10.3" ><tspan font-style="italic">P</tspan> Value</text>
<linearGradient id="gC" x1="0" y1="0" x2="0" y2="1"><stop offset="0" stop-color="#e8432a"/><stop offset="0.2" stop-color="#e07130"/><stop offset="0.42" stop-color="#c8972f"/><stop offset="0.63" stop-color="#a3c536"/><stop offset="0.8" stop-color="#8bd033"/><stop offset="1" stop-color="#7dd22f"/></linearGradient>
<rect x="646.90" y="65.10" width="9.40" height="45.70" fill="url(#gC)"/>
<line x1="646.90" y1="76.30" x2="648.80" y2="76.30" stroke="#fff" stroke-width="0.8" />
<line x1="654.40" y1="76.30" x2="656.30" y2="76.30" stroke="#fff" stroke-width="0.8" />
<text x="658.20" y="80.60" text-anchor="start" font-size="10.7" >0.03</text>
<line x1="646.90" y1="88.00" x2="648.80" y2="88.00" stroke="#fff" stroke-width="0.8" />
<line x1="654.40" y1="88.00" x2="656.30" y2="88.00" stroke="#fff" stroke-width="0.8" />
<text x="658.20" y="92.30" text-anchor="start" font-size="10.7" >0.02</text>
<line x1="646.90" y1="99.80" x2="648.80" y2="99.80" stroke="#fff" stroke-width="0.8" />
<line x1="654.40" y1="99.80" x2="656.30" y2="99.80" stroke="#fff" stroke-width="0.8" />
<text x="658.20" y="104.10" text-anchor="start" font-size="10.7" >0.01</text>
<text x="645.80" y="131.30" text-anchor="start" font-size="10.7" >Count</text>
<circle cx="654.90" cy="141.30" r="4.30" fill="#000"/>
<text x="671.40" y="145.70" text-anchor="middle" font-size="10.7" >5</text>
<circle cx="654.90" cy="153.20" r="5.20" fill="#000"/>
<text x="671.40" y="157.60" text-anchor="middle" font-size="10.7" >10</text>
<circle cx="654.90" cy="165.40" r="5.80" fill="#000"/>
<text x="671.40" y="169.80" text-anchor="middle" font-size="10.7" >15</text>
<circle cx="654.90" cy="178.40" r="6.30" fill="#000"/>
<text x="671.40" y="182.80" text-anchor="middle" font-size="10.7" >20</text>
<circle cx="654.90" cy="192.10" r="6.80" fill="#000"/>
<text x="671.40" y="196.50" text-anchor="middle" font-size="10.7" >25</text>
<text x="389.60" y="295.30" text-anchor="start" font-size="12.4" font-weight="bold" >D</text>
<clipPath id="cpD"><rect x="541.4" y="292.4" width="96.0" height="235.60000000000002"/></clipPath>
<g clip-path="url(#cpD)">
<line x1="548.90" y1="292.40" x2="548.90" y2="528.00" stroke="#f0f0f0" stroke-width="0.6" />
<line x1="567.70" y1="292.40" x2="567.70" y2="528.00" stroke="#f0f0f0" stroke-width="0.6" />
<line x1="586.20" y1="292.40" x2="586.20" y2="528.00" stroke="#f0f0f0" stroke-width="0.6" />
<line x1="605.00" y1="292.40" x2="605.00" y2="528.00" stroke="#f0f0f0" stroke-width="0.6" />
<line x1="623.70" y1="292.40" x2="623.70" y2="528.00" stroke="#f0f0f0" stroke-width="0.6" />
<line x1="558.20" y1="292.40" x2="558.20" y2="528.00" stroke="#ebebeb" stroke-width="1.0" />
<line x1="576.60" y1="292.40" x2="576.60" y2="528.00" stroke="#ebebeb" stroke-width="1.0" />
<line x1="595.30" y1="292.40" x2="595.30" y2="528.00" stroke="#ebebeb" stroke-width="1.0" />
<line x1="614.10" y1="292.40" x2="614.10" y2="528.00" stroke="#ebebeb" stroke-width="1.0" />
<line x1="633.00" y1="292.40" x2="633.00" y2="528.00" stroke="#ebebeb" stroke-width="1.0" />
<line x1="541.40" y1="303.40" x2="637.40" y2="303.40" stroke="#ebebeb" stroke-width="1.0" />
<line x1="541.40" y1="322.78" x2="637.40" y2="322.78" stroke="#ebebeb" stroke-width="1.0" />
<line x1="541.40" y1="342.16" x2="637.40" y2="342.16" stroke="#ebebeb" stroke-width="1.0" />
<line x1="541.40" y1="361.54" x2="637.40" y2="361.54" stroke="#ebebeb" stroke-width="1.0" />
<line x1="541.40" y1="380.92" x2="637.40" y2="380.92" stroke="#ebebeb" stroke-width="1.0" />
<line x1="541.40" y1="400.30" x2="637.40" y2="400.30" stroke="#ebebeb" stroke-width="1.0" />
<line x1="541.40" y1="419.68" x2="637.40" y2="419.68" stroke="#ebebeb" stroke-width="1.0" />
<line x1="541.40" y1="439.06" x2="637.40" y2="439.06" stroke="#ebebeb" stroke-width="1.0" />
<line x1="541.40" y1="458.44" x2="637.40" y2="458.44" stroke="#ebebeb" stroke-width="1.0" />
<line x1="541.40" y1="477.82" x2="637.40" y2="477.82" stroke="#ebebeb" stroke-width="1.0" />
<line x1="541.40" y1="497.20" x2="637.40" y2="497.20" stroke="#ebebeb" stroke-width="1.0" />
<line x1="541.40" y1="516.58" x2="637.40" y2="516.58" stroke="#ebebeb" stroke-width="1.0" />
<circle cx="630.40" cy="303.40" r="6.10" fill="#84d336"/>
<circle cx="621.10" cy="322.78" r="5.80" fill="#84d336"/>
<circle cx="591.00" cy="342.16" r="5.30" fill="#84d336"/>
<circle cx="566.80" cy="361.54" r="4.80" fill="#84d336"/>
<circle cx="569.90" cy="380.92" r="4.80" fill="#84d336"/>
<circle cx="633.00" cy="400.30" r="6.20" fill="#84d336"/>
<circle cx="594.10" cy="419.68" r="5.60" fill="#84d336"/>
<circle cx="560.60" cy="439.06" r="4.50" fill="#84d336"/>
<circle cx="569.60" cy="458.44" r="4.90" fill="#84d336"/>
<circle cx="545.60" cy="477.82" r="3.30" fill="#8bd42e"/>
<circle cx="548.50" cy="497.20" r="4.00" fill="#b8b22e"/>
<circle cx="563.50" cy="516.58" r="4.80" fill="#e43a2a"/>
</g>
<rect x="541.4" y="292.4" width="96.00" height="235.60" fill="none" stroke="#666" stroke-width="1.1"/>
<line x1="539.00" y1="303.40" x2="541.40" y2="303.40" stroke="#333" stroke-width="1.1" />
<text x="535.90" y="307.20" text-anchor="end" font-size="10.7" >mRNA processing</text>
<line x1="539.00" y1="322.78" x2="541.40" y2="322.78" stroke="#333" stroke-width="1.1" />
<text x="535.90" y="326.58" text-anchor="end" font-size="10.7" >RNA splicing</text>
<line x1="539.00" y1="342.16" x2="541.40" y2="342.16" stroke="#333" stroke-width="1.1" />
<text x="535.90" y="345.96" text-anchor="end" font-size="10.7" >Ribonucleoprotein complex</text>
<line x1="539.00" y1="361.54" x2="541.40" y2="361.54" stroke="#333" stroke-width="1.1" />
<text x="535.90" y="365.34" text-anchor="end" font-size="10.7" >mRNA transport</text>
<line x1="539.00" y1="380.92" x2="541.40" y2="380.92" stroke="#333" stroke-width="1.1" />
<text x="535.90" y="384.72" text-anchor="end" font-size="10.7" >Helicase activity</text>
<line x1="539.00" y1="400.30" x2="541.40" y2="400.30" stroke="#333" stroke-width="1.1" />
<text x="535.90" y="404.10" text-anchor="end" font-size="10.7" >Hydrolase activity</text>
<line x1="539.00" y1="419.68" x2="541.40" y2="419.68" stroke="#333" stroke-width="1.1" />
<text x="535.90" y="423.48" text-anchor="end" font-size="10.7" >Oxidoreductase activity</text>
<line x1="539.00" y1="439.06" x2="541.40" y2="439.06" stroke="#333" stroke-width="1.1" />
<text x="535.90" y="442.86" text-anchor="end" font-size="10.7" >Necroptosis</text>
<line x1="539.00" y1="458.44" x2="541.40" y2="458.44" stroke="#333" stroke-width="1.1" />
<text x="535.90" y="462.24" text-anchor="end" font-size="10.7" >DNA damage response</text>
<line x1="539.00" y1="477.82" x2="541.40" y2="477.82" stroke="#333" stroke-width="1.1" />
<text x="535.90" y="481.62" text-anchor="end" font-size="10.7" >Glutamine metabolic process</text>
<line x1="539.00" y1="497.20" x2="541.40" y2="497.20" stroke="#333" stroke-width="1.1" />
<text x="535.90" y="501.00" text-anchor="end" font-size="10.7" >Cellular response to oxidative stress</text>
<line x1="539.00" y1="516.58" x2="541.40" y2="516.58" stroke="#333" stroke-width="1.1" />
<text x="535.90" y="520.38" text-anchor="end" font-size="10.7" >Regulation of apoptotic process</text>
<line x1="558.20" y1="528.00" x2="558.20" y2="530.40" stroke="#333" stroke-width="1.1" />
<line x1="576.60" y1="528.00" x2="576.60" y2="530.40" stroke="#333" stroke-width="1.1" />
<line x1="595.30" y1="528.00" x2="595.30" y2="530.40" stroke="#333" stroke-width="1.1" />
<line x1="614.10" y1="528.00" x2="614.10" y2="530.40" stroke="#333" stroke-width="1.1" />
<line x1="633.00" y1="528.00" x2="633.00" y2="530.40" stroke="#333" stroke-width="1.1" />
<text x="560.40" y="540.30" text-anchor="middle" font-size="10.7" >0.025</text>
<text x="597.10" y="540.30" text-anchor="middle" font-size="10.7" >0.075</text>
<text x="633.80" y="540.30" text-anchor="middle" font-size="10.7" >0.0125</text>
<text x="647.00" y="352.20" text-anchor="start" font-size="10.3" ><tspan font-style="italic">P</tspan> Value</text>
<rect x="646.80" y="358.00" width="9.50" height="45.90" fill="url(#gC)"/>
<line x1="646.80" y1="368.60" x2="648.70" y2="368.60" stroke="#fff" stroke-width="0.8" />
<line x1="654.40" y1="368.60" x2="656.30" y2="368.60" stroke="#fff" stroke-width="0.8" />
<text x="658.00" y="373.10" text-anchor="start" font-size="10.7" >0.02</text>
<line x1="646.80" y1="380.50" x2="648.70" y2="380.50" stroke="#fff" stroke-width="0.8" />
<line x1="654.40" y1="380.50" x2="656.30" y2="380.50" stroke="#fff" stroke-width="0.8" />
<text x="658.00" y="385.00" text-anchor="start" font-size="10.7" >0.15</text>
<line x1="646.80" y1="392.50" x2="648.70" y2="392.50" stroke="#fff" stroke-width="0.8" />
<line x1="654.40" y1="392.50" x2="656.30" y2="392.50" stroke="#fff" stroke-width="0.8" />
<text x="658.00" y="397.00" text-anchor="start" font-size="10.7" >0.01</text>
<text x="646.80" y="425.60" text-anchor="start" font-size="10.7" >Count</text>
<circle cx="652.90" cy="436.70" r="4.30" fill="#000"/>
<text x="661.70" y="440.90" text-anchor="start" font-size="10.7" >10</text>
<circle cx="652.90" cy="448.40" r="5.30" fill="#000"/>
<text x="661.70" y="452.60" text-anchor="start" font-size="10.7" >20</text>
<circle cx="652.90" cy="462.20" r="6.10" fill="#000"/>
<text x="661.70" y="466.40" text-anchor="start" font-size="10.7" >30</text>
</svg>
</body></html>
